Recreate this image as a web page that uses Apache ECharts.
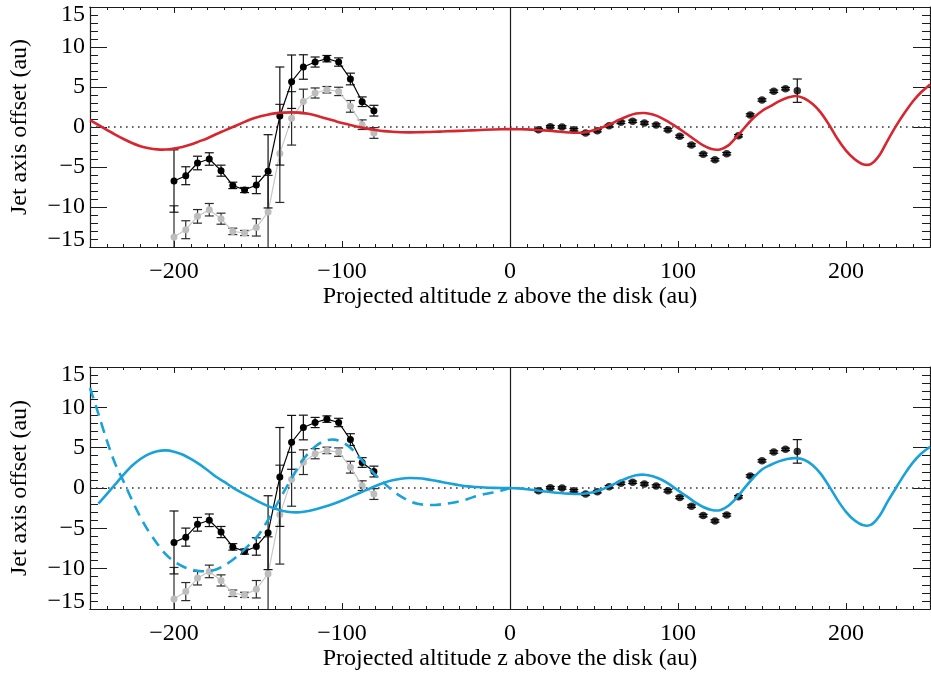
<!DOCTYPE html>
<html>
<head>
<meta charset="utf-8">
<script src="https://cdn.jsdelivr.net/npm/echarts@6/dist/echarts.min.js"></script>
<style>
  html, body { margin: 0; padding: 0; background: #ffffff; }
  #chart { width: 931px; height: 675px; }
</style>
</head>
<body>
<div id="chart"></div>
<script>
// ---- measured jet axis offsets, counter-jet side (z < 0) ----
const zLeft = [-200, -193, -186, -179, -172, -165, -158, -151, -144, -137, -130, -123, -116, -109, -102, -95, -88, -81];
const offsetLeft = [-6.75, -6.09, -4.5, -4.0, -5.46, -7.3, -7.88, -7.25, -5.54, 1.37, 5.66, 7.5, 8.12, 8.54, 8.12, 6.0, 3.16, 2.04];
const offsetLeftShifted = [-13.75, -12.84, -11.17, -10.34, -11.46, -13.05, -13.25, -12.55, -10.63, -3.3, 1.08, 3.2, 4.25, 4.66, 4.45, 2.58, 0.29, -0.75];
const errLeft = [3.9, 1.12, 0.85, 0.78, 0.69, 0.4, 0.32, 1.08, 4.58, 6.13, 3.34, 1.53, 0.63, 0.4, 0.52, 0.73, 0.6, 0.67];

// ---- measured jet axis offsets, jet side (z > 0) ----
const zRight = [17, 24, 31, 38, 45, 52, 59, 66, 73, 80, 87, 94, 101, 108, 115, 122, 129, 136, 143, 150, 157, 164, 171];
const offsetRight = [-0.34, 0.04, 0.0, -0.34, -0.75, -0.46, 0.16, 0.58, 0.71, 0.5, 0.25, -0.34, -1.17, -2.25, -3.42, -4.09, -3.34, -1.09, 1.5, 3.37, 4.46, 4.79, 4.54];
const errRight = [0.15, 0.15, 0.15, 0.15, 0.15, 0.15, 0.15, 0.15, 0.15, 0.15, 0.15, 0.15, 0.15, 0.15, 0.15, 0.15, 0.15, 0.15, 0.15, 0.15, 0.15, 0.15, 1.46];

// ---- model curves ----
const zModelRed = [-250, -245, -240, -235, -230, -225, -220, -215, -210, -205, -200, -195, -190, -185, -180, -175, -170, -165, -160, -155, -150, -145, -140, -135, -130, -125, -120, -115, -110, -105, -100, -95, -90, -85, -80, -75, -70, -65, -60, -55, -50, -45, -40, -35, -30, -25, -20, -15, -10, -5, 0, 5, 10, 15, 20, 25, 30, 35, 40, 45, 50, 55, 60, 65, 70, 75, 80, 85, 90, 95, 100, 105, 110, 115, 120, 125, 130, 135, 140, 145, 150, 155, 160, 165, 170, 175, 180, 185, 190, 195, 200, 205, 210, 215, 220, 225, 230, 235, 240, 245, 250];
const modelRed = [0.85, 0.25, -0.35, -0.95, -1.5, -2.0, -2.4, -2.65, -2.8, -2.82, -2.7, -2.5, -2.2, -1.8, -1.4, -0.9, -0.45, 0.0, 0.45, 0.9, 1.25, 1.5, 1.7, 1.8, 1.83, 1.8, 1.65, 1.4, 1.1, 0.8, 0.5, 0.25, 0.0, -0.2, -0.38, -0.52, -0.6, -0.65, -0.67, -0.66, -0.63, -0.6, -0.56, -0.52, -0.48, -0.44, -0.4, -0.35, -0.31, -0.28, -0.27, -0.28, -0.3, -0.35, -0.42, -0.5, -0.6, -0.68, -0.72, -0.65, -0.42, -0.05, 0.4, 0.9, 1.35, 1.68, 1.75, 1.55, 1.15, 0.55, -0.1, -0.85, -1.6, -2.3, -2.75, -2.8, -2.3, -1.2, 0.0, 1.15, 2.0, 2.6, 3.2, 3.65, 3.88, 3.6, 2.9, 1.8, 0.25, -1.5, -2.95, -4.0, -4.65, -4.6, -3.5, -1.6, 0.2, 1.8, 3.25, 4.4, 5.3];

const zModelBlue = [-245, -240, -235, -230, -225, -220, -215, -210, -205, -200, -195, -190, -185, -180, -175, -170, -165, -160, -155, -150, -145, -140, -135, -130, -125, -120, -115, -110, -105, -100, -95, -90, -85, -80, -75, -70, -65, -60, -55, -50, -45, -40, -35, -30, -25, -20, -15, -10, -5, 0, 5, 10, 15, 20, 25, 30, 35, 40, 45, 50, 55, 60, 65, 70, 75, 80, 85, 90, 95, 100, 105, 110, 115, 120, 125, 130, 135, 140, 145, 150, 155, 160, 165, 170, 175, 180, 185, 190, 195, 200, 205, 210, 215, 220, 225, 230, 235, 240, 245, 250];
const modelBlue = [-1.94, -0.75, 0.45, 1.65, 2.75, 3.6, 4.2, 4.55, 4.66, 4.5, 4.15, 3.6, 2.95, 2.2, 1.4, 0.75, 0.05, -0.55, -1.1, -1.65, -2.15, -2.55, -2.85, -3.0, -3.0, -2.85, -2.6, -2.3, -1.95, -1.55, -1.1, -0.65, -0.2, 0.25, 0.65, 0.95, 1.15, 1.24, 1.2, 1.1, 0.92, 0.72, 0.52, 0.34, 0.2, 0.12, 0.06, 0.02, 0.0, 0.0, -0.05, -0.15, -0.28, -0.4, -0.52, -0.62, -0.7, -0.75, -0.68, -0.5, -0.15, 0.3, 0.8, 1.25, 1.58, 1.65, 1.45, 1.05, 0.45, -0.3, -1.0, -1.75, -2.35, -2.72, -2.75, -2.2, -1.2, 0.1, 1.3, 2.3, 2.85, 3.3, 3.6, 3.7, 3.5, 2.85, 1.75, 0.2, -1.5, -2.95, -4.0, -4.6, -4.55, -3.45, -1.6, 0.1, 1.75, 3.2, 4.3, 5.1];

const zModelDashed = [-250, -245, -240, -235, -230, -225, -220, -215, -210, -205, -200, -195, -190, -185, -180, -175, -170, -165, -160, -155, -150, -145, -140, -135, -130, -125, -120, -115, -110, -105, -100, -95, -90, -85, -80, -75, -70, -65, -60, -55, -50, -45, -40, -35, -30, -25, -20, -15, -10, -5, 0];
const modelDashed = [12.4, 9.2, 5.9, 3.0, 0.8, -1.5, -3.6, -5.4, -6.9, -8.2, -9.1, -9.7, -10.1, -10.3, -10.3, -10.1, -9.6, -8.9, -8.0, -7.0, -5.9, -4.3, -2.5, -0.6, 1.2, 3.0, 4.3, 5.3, 5.85, 6.0, 5.7, 5.0, 3.9, 2.7, 1.6, 0.6, -0.3, -1.05, -1.6, -1.95, -2.1, -2.1, -2.0, -1.85, -1.65, -1.35, -1.0, -0.75, -0.55, -0.3, 0.0];

// ---- axis ticks ----
const xMajorTicks = [-200, -100, 0, 100, 200];
const xTitle = 'Projected altitude z above the disk (au)';
const yTitle = 'Jet axis offset (au)';

const zip = (xs, ys) => xs.map((x, i) => [x, ys[i]]);
const zip3 = (xs, ys, es) => xs.map((x, i) => [x, ys[i], es[i]]);

const FONT = "'Liberation Serif', 'Times New Roman', serif";
const INK = '#1c1c1c';
const RED = '#d8262f';
const BLUE = '#19a2da';
const withMinus = v => String(v).replace('-', '\u2212');

const grids = [
  { left: 88, top: 7, width: 842, height: 240 },
  { left: 88, top: 367, width: 842, height: 242 }
];

function makeXAxes(g) {
  const base = {
    type: 'value', gridIndex: g, min: -250, max: 250,
    splitLine: { show: false },
    axisLine: { show: true, onZero: false, lineStyle: { color: INK, width: 1.2 } }
  };
  const minorTick = { show: true, inside: true, length: 3, lineStyle: { color: INK, width: 1 } };
  const majorTick = { show: true, inside: true, length: 6, customValues: xMajorTicks, lineStyle: { color: INK, width: 1 } };
  return [
    Object.assign({}, base, { position: 'bottom', interval: 10, axisTick: minorTick, axisLabel: { show: false } }),
    Object.assign({}, base, {
      position: 'bottom', axisTick: majorTick,
      axisLabel: { show: true, customValues: xMajorTicks, formatter: withMinus, fontFamily: FONT, fontSize: 24, color: '#000', margin: 13 },
      name: xTitle, nameLocation: 'middle', nameGap: 38,
      nameTextStyle: { fontFamily: FONT, fontSize: 24, color: '#000' }
    }),
    Object.assign({}, base, { position: 'top', interval: 10, axisTick: minorTick, axisLabel: { show: false } }),
    Object.assign({}, base, { position: 'top', axisTick: majorTick, axisLabel: { show: false } })
  ];
}

function makeYAxes(g) {
  const base = {
    type: 'value', gridIndex: g, min: -15, max: 15, interval: 5,
    splitLine: { show: false },
    axisLine: { show: true, onZero: false, lineStyle: { color: INK, width: 1.2 } },
    axisTick: { show: true, inside: true, length: 17, lineStyle: { color: INK, width: 1 } },
    minorTick: { show: true, splitNumber: 5, length: 8, lineStyle: { color: INK, width: 1 } }
  };
  return [
    Object.assign({}, base, {
      position: 'left',
      axisLabel: {
        show: true, formatter: withMinus, fontFamily: FONT, fontSize: 24, lineHeight: 15, color: '#000', margin: 5,
        verticalAlignMaxLabel: 'top', verticalAlignMinLabel: 'bottom'
      },
      name: yTitle, nameLocation: 'middle', nameGap: 58, nameRotate: 90,
      nameTextStyle: { fontFamily: FONT, fontSize: 24, color: '#000' }
    }),
    Object.assign({}, base, { position: 'right', axisLabel: { show: false } })
  ];
}

// vertical error bars with caps, clamped to the plot frame
function errorBarRenderer(color) {
  return function (params, api) {
    const x = api.value(0), y = api.value(1), e = api.value(2);
    const hi = api.coord([x, y + e]);
    const lo = api.coord([x, y - e]);
    const cs = params.coordSys;
    const yTop = cs.y, yBot = cs.y + cs.height;
    const y1 = Math.max(hi[1], yTop), y2 = Math.min(lo[1], yBot);
    const px = hi[0];
    const style = { stroke: color, lineWidth: 1.2 };
    const children = [{ type: 'line', shape: { x1: px, y1: y1, x2: px, y2: y2 }, style: style }];
    const cap = 4.5;
    if (hi[1] >= yTop) children.push({ type: 'line', shape: { x1: px - cap, y1: hi[1], x2: px + cap, y2: hi[1] }, style: style });
    if (lo[1] <= yBot) children.push({ type: 'line', shape: { x1: px - cap, y1: lo[1], x2: px + cap, y2: lo[1] }, style: style });
    return { type: 'group', children: children };
  };
}

function dataSeries(xi, yi) {
  return [
    {
      type: 'custom', xAxisIndex: xi, yAxisIndex: yi, z: 3,
      renderItem: errorBarRenderer('#2a2a2a'),
      data: zip3(zLeft, offsetLeftShifted, errLeft)
    },
    {
      type: 'line', xAxisIndex: xi, yAxisIndex: yi, z: 4,
      data: zip(zLeft, offsetLeftShifted),
      symbol: 'circle', symbolSize: 7,
      itemStyle: { color: '#bdbdbd' },
      lineStyle: { color: '#c6c6c6', width: 1.2 }
    },
    {
      type: 'custom', xAxisIndex: xi, yAxisIndex: yi, z: 5,
      renderItem: errorBarRenderer('#111'),
      data: zip3(zLeft, offsetLeft, errLeft)
    },
    {
      type: 'line', xAxisIndex: xi, yAxisIndex: yi, z: 6,
      data: zip(zLeft, offsetLeft),
      symbol: 'circle', symbolSize: 7,
      itemStyle: { color: '#000' },
      lineStyle: { color: '#000', width: 1.2 }
    },
    {
      type: 'custom', xAxisIndex: xi, yAxisIndex: yi, z: 5,
      renderItem: errorBarRenderer('#111'),
      data: zip3(zRight, offsetRight, errRight)
    },
    {
      type: 'scatter', xAxisIndex: xi, yAxisIndex: yi, z: 6,
      data: zip(zRight, offsetRight),
      symbol: 'circle', symbolSize: 7.5,
      itemStyle: { color: '#000' }
    }
  ];
}

function referenceLines(xi, yi) {
  return {
    type: 'line', xAxisIndex: xi, yAxisIndex: yi, z: 2, data: [],
    markLine: {
      silent: true, symbol: 'none', animation: false,
      label: { show: false },
      data: [
        { yAxis: 0, lineStyle: { color: '#333', width: 1.6, type: [1.6, 4.4] } },
        { xAxis: 0, lineStyle: { color: INK, width: 1.2, type: 'solid' } }
      ]
    }
  };
}

// model curve: one Catmull-Rom path through the sampled points, drawn with the axes' own coordinates
function modelLine(xi, yi, xs, ys, color, dash) {
  const samples = zip(xs, ys);
  return {
    type: 'custom', xAxisIndex: xi, yAxisIndex: yi, z: 8, silent: true,
    data: samples,
    renderItem: function (params, api) {
      if (params.dataIndex !== 0) return null;
      const p = samples.map(s => api.coord(s));
      const n = p.length;
      let d = 'M' + p[0][0] + ' ' + p[0][1];
      for (let i = 0; i < n - 1; i++) {
        const p0 = p[Math.max(i - 1, 0)], p1 = p[i], p2 = p[i + 1], p3 = p[Math.min(i + 2, n - 1)];
        const c1x = p1[0] + (p2[0] - p0[0]) / 6, c1y = p1[1] + (p2[1] - p0[1]) / 6;
        const c2x = p2[0] - (p3[0] - p1[0]) / 6, c2y = p2[1] - (p3[1] - p1[1]) / 6;
        d += ' C' + c1x + ' ' + c1y + ' ' + c2x + ' ' + c2y + ' ' + p2[0] + ' ' + p2[1];
      }
      return {
        type: 'path',
        shape: { pathData: d },
        style: { fill: null, stroke: color, lineWidth: 2.6, lineDash: dash || null, lineJoin: 'round', lineCap: 'butt' }
      };
    }
  };
}

const series = [
  referenceLines(0, 0),
  ...dataSeries(0, 0),
  modelLine(0, 0, zModelRed, modelRed, RED),
  referenceLines(4, 2),
  ...dataSeries(4, 2),
  modelLine(4, 2, zModelBlue, modelBlue, BLUE),
  modelLine(4, 2, zModelDashed, modelDashed, BLUE, [11, 7])
];

const chart = echarts.init(document.getElementById('chart'), null, { renderer: 'canvas' });
chart.setOption({
  animation: false,
  backgroundColor: '#ffffff',
  grid: grids,
  xAxis: [...makeXAxes(0), ...makeXAxes(1)],
  yAxis: [...makeYAxes(0), ...makeYAxes(1)],
  series: series
});
</script>
</body>
</html>
